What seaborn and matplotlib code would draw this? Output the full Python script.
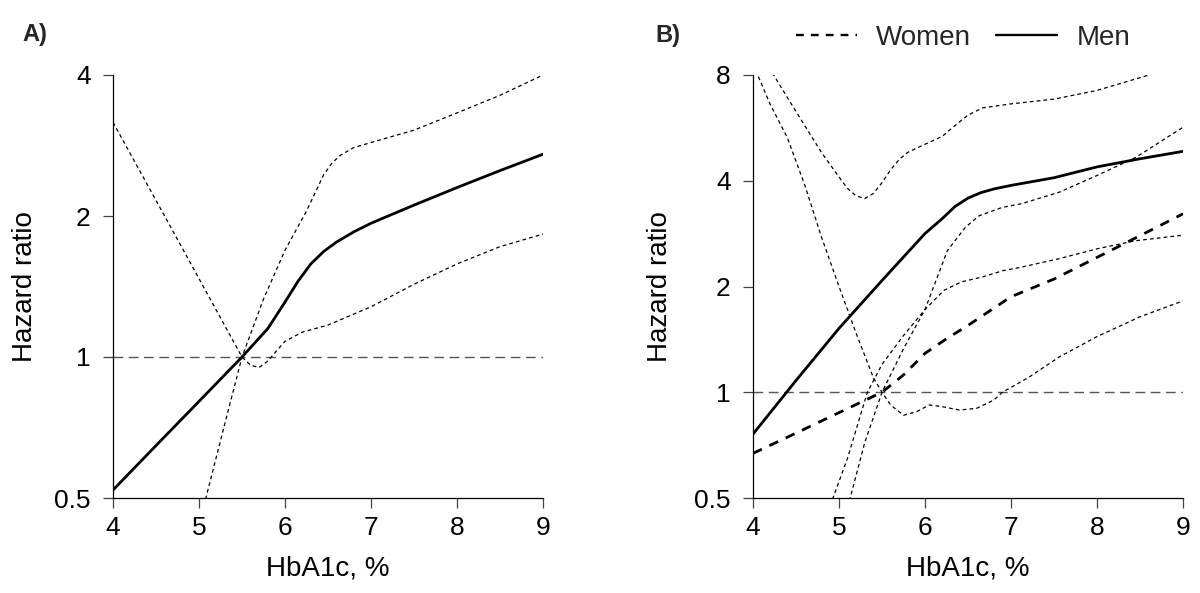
import numpy as np
import pandas as pd
import matplotlib
matplotlib.use("Agg")
import matplotlib.pyplot as plt
from matplotlib.lines import Line2D
import seaborn as sns

# ---------------- data ----------------
# Panel A: overall
a_hr_x = [4.0, 4.5, 5.0, 5.5, 5.8, 6.0, 6.15, 6.3, 6.45, 6.6, 6.8, 7.0, 7.5, 8.0, 8.5, 9.0]
a_hr_y = [0.52, 0.647, 0.804, 1.0, 1.15, 1.31, 1.45, 1.58, 1.68, 1.76, 1.85, 1.93, 2.11, 2.30, 2.50, 2.71]

a_ci1_x = [4.0, 4.5, 5.0, 5.5, 5.6, 5.7, 5.8, 5.9, 6.0, 6.2, 6.5, 7.0, 7.5, 8.0, 8.5, 9.0]
a_ci1_y = [3.17, 2.16, 1.47, 1.0, 0.96, 0.95, 0.98, 1.03, 1.08, 1.13, 1.17, 1.28, 1.43, 1.58, 1.72, 1.83]

a_ci2_x = [4.9, 5.08, 5.3, 5.5, 5.75, 6.0, 6.25, 6.45, 6.55, 6.65, 6.8, 7.0, 7.5, 8.0, 8.5, 9.0]
a_ci2_y = [0.37, 0.5, 0.72, 1.0, 1.33, 1.69, 2.05, 2.45, 2.6, 2.7, 2.80, 2.87, 3.05, 3.32, 3.62, 4.0]

# Panel B: women / men
men_x = [4.0, 4.5, 5.0, 5.5, 6.0, 6.2, 6.35, 6.5, 6.65, 6.8, 7.0, 7.5, 8.0, 8.5, 9.0]
men_y = [0.76, 1.08, 1.52, 2.08, 2.83, 3.12, 3.38, 3.57, 3.70, 3.79, 3.88, 4.08, 4.38, 4.62, 4.85]

women_x = [4.0, 4.5, 5.0, 5.5, 5.75, 6.0, 6.25, 6.5, 7.0, 7.5, 8.0, 8.5, 9.0]
women_y = [0.67, 0.765, 0.875, 1.0, 1.12, 1.29, 1.42, 1.55, 1.87, 2.1, 2.42, 2.79, 3.22]

women_lo_x = [4.0, 4.2, 4.4, 4.6, 4.8, 5.0, 5.2, 5.4, 5.5, 5.6, 5.75, 5.9, 6.05, 6.2, 6.4,
              6.6, 6.8, 6.9, 7.2, 7.56, 8.0, 8.5, 9.0]
women_lo_y = [8.6, 6.6, 5.3, 3.9, 2.75, 2.0, 1.47, 1.1, 1.0, 0.92, 0.86, 0.88, 0.92, 0.91, 0.89,
              0.9, 0.95, 1.0, 1.1, 1.26, 1.44, 1.64, 1.82]

women_up_x = [4.95, 5.13, 5.3, 5.5, 5.75, 6.0, 6.26, 6.47, 6.63, 6.9, 7.12, 7.56, 8.0, 8.45, 9.0]
women_up_y = [0.4, 0.5, 0.72, 1.0, 1.33, 1.72, 2.53, 2.95, 3.18, 3.36, 3.44, 3.71, 4.14, 4.66, 5.68]

men_lo_x = [4.8, 4.93, 5.1, 5.33, 5.5, 5.75, 6.0, 6.22, 6.42, 6.67, 6.91, 7.12, 7.56, 8.0, 8.45, 9.0]
men_lo_y = [0.4, 0.5, 0.65, 1.0, 1.2, 1.45, 1.72, 1.95, 2.06, 2.13, 2.22, 2.27, 2.40, 2.56, 2.70, 2.80]

men_up_x = [4.1, 4.24, 4.4, 4.6, 4.8, 5.0, 5.1, 5.2, 5.3, 5.4, 5.5, 5.6, 5.7, 5.8, 6.0,
            6.2, 6.35, 6.5, 6.67, 7.0, 7.5, 8.0, 8.56, 9.0]
men_up_y = [9.1, 8.0, 6.9, 5.75, 4.8, 4.1, 3.8, 3.62, 3.56, 3.68, 3.95, 4.3, 4.6, 4.82, 5.08,
            5.35, 5.75, 6.15, 6.45, 6.62, 6.83, 7.23, 7.94, 8.6]

x_ticks = [4, 5, 6, 7, 8, 9]
a_y_ticks = [0.5, 1, 2, 4]
b_y_ticks = [0.5, 1, 2, 4, 8]
ref_value = 1.0
legend_labels = ['Women', 'Men']

# ---------------- style ----------------
sns.set_theme(style="ticks")
plt.rcParams['font.family'] = ['Liberation Sans', 'DejaVu Sans']
plt.rcParams['axes.unicode_minus'] = False

fig = plt.figure(figsize=(12, 5.93), dpi=100)
W, H = 1200, 593
def ax_rect(left, right, top, bottom):
    return [left / W, 1 - bottom / H, (right - left) / W, (bottom - top) / H]

axA = fig.add_axes(ax_rect(113, 543, 75, 498))
axB = fig.add_axes(ax_rect(753, 1183, 75, 498))

thin = dict(color='black', linewidth=0.9, linestyle=(0, (3, 2.5)))
ref = dict(color='#555555', linewidth=1.0, linestyle=(0, (7, 4)))
women_ls = (0, (3.5, 3))

def draw(ax, x, y, **kw):
    sns.lineplot(x=x, y=y, ax=ax, sort=False, estimator=None, **kw)

# Panel A
draw(axA, [x_ticks[0], x_ticks[-1]], [ref_value, ref_value], **ref)
draw(axA, a_ci1_x, a_ci1_y, **thin)
draw(axA, a_ci2_x, a_ci2_y, **thin)
draw(axA, a_hr_x, a_hr_y, color='black', linewidth=2.0)

# Panel B
draw(axB, [x_ticks[0], x_ticks[-1]], [ref_value, ref_value], **ref)
draw(axB, women_lo_x, women_lo_y, **thin)
draw(axB, women_up_x, women_up_y, **thin)
draw(axB, men_lo_x, men_lo_y, **thin)
draw(axB, men_up_x, men_up_y, **thin)
draw(axB, women_x, women_y, color='black', linewidth=2.0, linestyle=women_ls)
draw(axB, men_x, men_y, color='black', linewidth=2.0)

for ax, yt in ((axA, a_y_ticks), (axB, b_y_ticks)):
    ax.set_yscale('log', base=2)
    ax.set_xlim(x_ticks[0], x_ticks[-1])
    ax.set_ylim(yt[0], yt[-1])
    ax.set_xticks(x_ticks)
    ax.set_xticklabels([str(t) for t in x_ticks])
    ax.set_yticks(yt)
    ax.set_yticklabels([('%g' % t) for t in yt])
    ax.yaxis.set_minor_locator(matplotlib.ticker.NullLocator())
    for s in ('top', 'right'):
        ax.spines[s].set_visible(False)
    for s in ('left', 'bottom'):
        ax.spines[s].set_color('black')
        ax.spines[s].set_linewidth(0.9)
    ax.tick_params(axis='both', direction='out', length=7, width=0.9, color='#444444',
                   labelsize=19, labelcolor='black')
    ax.tick_params(axis='x', pad=6)
    ax.tick_params(axis='y', pad=9)
    ax.set_xlabel('HbA1c, %', fontsize=20, color='black')
    ax.set_ylabel('Hazard ratio', fontsize=20, color='black')
    ax.xaxis.set_label_coords(0.5, -0.135)
    ax.set_facecolor('white')

axA.yaxis.set_label_coords(-0.175, 0.5)
axB.yaxis.set_label_coords(-0.185, 0.5)

handles = [Line2D([], [], color='black', linewidth=1.7, linestyle=(0, (3.3, 3.0))),
           Line2D([], [], color='black', linewidth=1.7)]
fig.legend(handles, legend_labels, loc='center', bbox_to_anchor=(963 / W, 1 - 38 / H), ncol=2,
           frameon=False, fontsize=20, handlelength=2.2, handletextpad=0.7,
           columnspacing=0.9, borderaxespad=0, borderpad=0)

fig.text(22 / W, 1 - 41 / H, 'A)', fontsize=17, fontweight='bold', ha='left', va='baseline')
fig.text(655 / W, 1 - 42 / H, 'B)', fontsize=17, fontweight='bold', ha='left', va='baseline')

fig.savefig('out.png', dpi=100, facecolor='white')
